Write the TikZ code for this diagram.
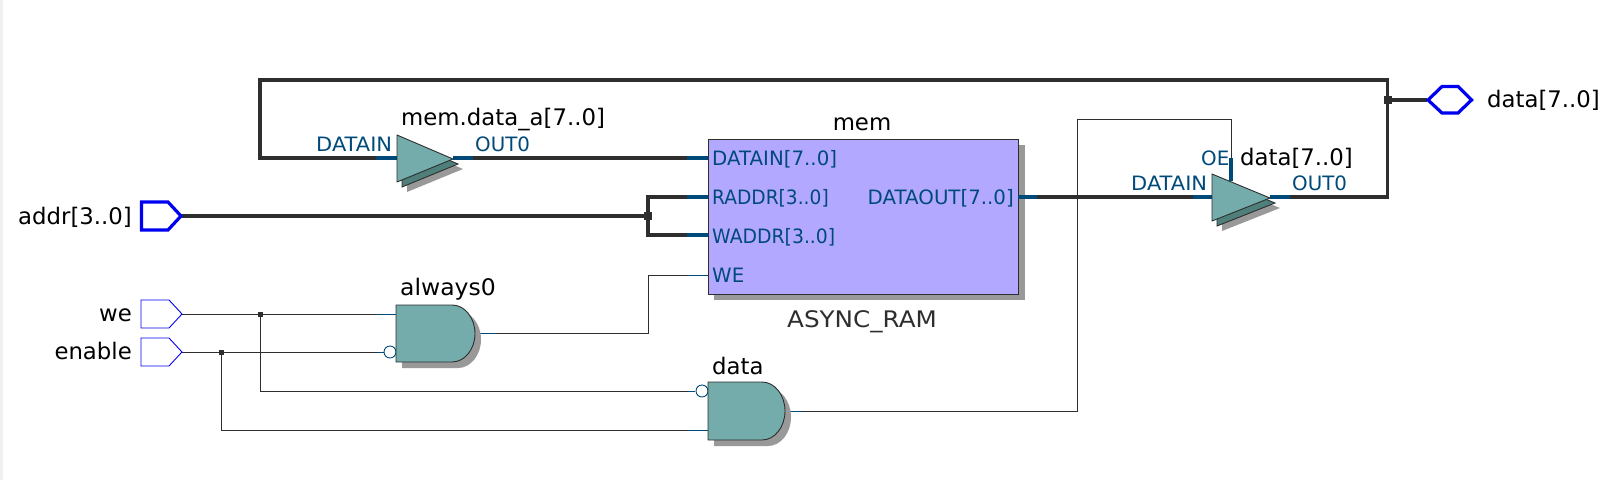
\documentclass[tikz,border=0pt]{standalone}
\usepackage{fontspec}
\setmainfont{DejaVu Sans}
\definecolor{bus}{HTML}{2E2E2E}
\definecolor{stub}{HTML}{004A7A}
\definecolor{gatefill}{HTML}{74ABAB}
\definecolor{gatedark}{HTML}{4F7F7B}
\definecolor{shadowgrey}{HTML}{999999}
\definecolor{ramfill}{HTML}{B2A8FF}
\definecolor{pinblue}{HTML}{0000F0}
\definecolor{leftstrip}{HTML}{F0F0F0}
\tikzset{
  x=1pt,y=-1pt,
  thickbus/.style={draw=bus,line width=3.6pt,line join=miter},
  thinwire/.style={draw=bus,line width=0.9pt},
  thickstub/.style={draw=stub,line width=3.6pt},
  thinstub/.style={draw=stub,line width=0.9pt},
  junction/.style={fill=bus,inner sep=0pt,minimum size=#1,draw=none,shape=rectangle},
  big/.style={font=\fontsize{22.8}{26}\selectfont,text=black,inner sep=0pt},
  small/.style={font=\fontsize{19.8}{22}\selectfont,text=stub,inner sep=0pt},
  gatebody/.style={fill=gatefill,draw=bus,line width=0.9pt,line join=round},
  pinline/.style={draw=pinblue,fill=white,line width=#1,line join=miter},
}
\newcommand{\andgate}[4]{% left, top, bottom, arcstart
  \fill[shadowgrey] (#1+6,#2+6) -- (#4+6,#2+6) arc[start angle=90,end angle=-90,x radius=23pt,y radius={(#3-#2)/2*1pt}] -- (#1+6,#3+6) -- cycle;
  \path[gatebody] (#1,#2) -- (#4,#2) arc[start angle=90,end angle=-90,x radius=23pt,y radius={(#3-#2)/2*1pt}] -- (#1,#3) -- cycle;
}
\newcommand{\bufgate}[3]{% left x, top y, tip x
  \fill[shadowgrey] (#1+10,#2+10) -- (#3+10,#2+34) -- (#1+10,#2+57) -- cycle;
  \path[fill=gatedark,draw=bus,line width=0.9pt] (#1+5,#2+5) -- (#3+5,#2+29) -- (#1+5,#2+52) -- cycle;
  \path[gatebody] (#1,#2) -- (#3,#2+24) -- (#1,#2+47) -- cycle;
}
\begin{document}
\begin{tikzpicture}
\useasboundingbox (0,0) rectangle (1613,480);
\fill[white] (0,0) rectangle (1613,480);
\fill[leftstrip] (0,0) rectangle (3,480);

% named connection points
\coordinate (topL) at (260,80);
\coordinate (topR) at (1387.5,80);
\coordinate (loopL) at (260,158);
\coordinate (bufAin) at (397,158);
\coordinate (bufAinS) at (376,158);
\coordinate (bufAout) at (453,158);
\coordinate (bufAoutS) at (473,158);
\coordinate (ramDin) at (708,158);
\coordinate (ramDinS) at (687,158);
\coordinate (ramRa) at (708,197);
\coordinate (ramRaS) at (687,197);
\coordinate (ramWa) at (708,235);
\coordinate (ramWaS) at (687,235);
\coordinate (ramWe) at (708,275);
\coordinate (ramWeS) at (688,275);
\coordinate (ramOut) at (1018,197);
\coordinate (ramOutS) at (1037,197);
\coordinate (jAddr) at (648,216);
\coordinate (jAddrT) at (648,197);
\coordinate (jAddrB) at (648,235);
\coordinate (addrTip) at (182,216);
\coordinate (bufBin) at (1212,197);
\coordinate (bufBinS) at (1193,197);
\coordinate (bufBout) at (1270,197);
\coordinate (bufBoutS) at (1290,197);
\coordinate (outR) at (1387.5,197);
\coordinate (jOut) at (1387.5,100);
\coordinate (hexL) at (1427,100);
\coordinate (weTip) at (182,314);
\coordinate (enTip) at (182,352);
\coordinate (jWe) at (260,314);
\coordinate (jEn) at (221,352);
\coordinate (g1a) at (396,314);
\coordinate (g1aS) at (377,314);
\coordinate (g1b) at (384,352);
\coordinate (g1bS) at (377,352);
\coordinate (g1o) at (475,333);
\coordinate (g1oS) at (495,333);
\coordinate (weTurn) at (648,275);
\coordinate (weTurnB) at (648,333);
\coordinate (g2a) at (695,391);
\coordinate (g2aS) at (688,391);
\coordinate (weLow) at (260,391);
\coordinate (g2b) at (708,430);
\coordinate (g2bS) at (688,430);
\coordinate (enLow) at (221,430);
\coordinate (g2o) at (785,411);
\coordinate (g2oS) at (803,411);
\coordinate (oeR) at (1077,411);
\coordinate (oeT) at (1077,119);
\coordinate (oeC) at (1231,119);
\coordinate (oeS) at (1231,158);
\coordinate (oeE) at (1231,181);

% RAM
\fill[shadowgrey] (714,145) rectangle (1025,300);
\node[draw=bus,fill=ramfill,line width=0.9pt,inner sep=0pt,minimum width=310pt,minimum height=155pt,anchor=north west] (ram) at (708,139) {};

% buses
\path[thickbus] (bufAinS) -- (loopL) -- (topL) -- (topR) -- (outR) -- (bufBoutS);
\path[thickbus] (bufAoutS) -- (ramDinS);
\path[thickbus] (addrTip) -- (jAddr);
\path[thickbus] (ramRaS) -- (jAddrT) -- (jAddrB) -- (ramWaS);
\path[thickbus] (ramOutS) -- (bufBinS);
\path[thickbus] (jOut) -- (hexL);
% thin wires
\path[thinwire] (weTip) -- (g1aS);
\path[thinwire] (enTip) -- (g1bS);
\path[thinwire] (jWe) -- (weLow) -- (g2aS);
\path[thinwire] (jEn) -- (enLow) -- (g2bS);
\path[thinwire] (g1oS) -- (weTurnB) -- (weTurn) -- (ramWeS);
\path[thinwire] (g2oS) -- (oeR) -- (oeT) -- (oeC) -- (oeS);
% stubs
\path[thickstub] (bufAinS) -- (bufAin);
\path[thickstub] (bufAout) -- (bufAoutS);
\path[thickstub] (ramDinS) -- (ramDin);
\path[thickstub] (ramRaS) -- (ramRa);
\path[thickstub] (ramWaS) -- (ramWa);
\path[thickstub] (ramOut) -- (ramOutS);
\path[thickstub] (bufBinS) -- (bufBin);
\path[thickstub] (bufBout) -- (bufBoutS);
\path[thickstub] (oeS) -- (oeE);
\path[thinstub] (ramWeS) -- (ramWe);
\path[thinstub] (g1aS) -- (g1a);
\path[thinstub] (g1bS) -- (g1b);
\path[thinstub] (g1o) -- (g1oS);
\path[thinstub] (g2aS) -- (g2a);
\path[thinstub] (g2bS) -- (g2b);
\path[thinstub] (g2o) -- (g2oS);
% junctions
\node[junction=8pt] (jA) at (jAddr) {};
\node[junction=8pt] (jO) at (jOut) {};
\node[junction=5pt] (jW) at (jWe) {};
\node[junction=5pt] (jE) at (jEn) {};

% gates
\path[draw=stub,fill=white,line width=0.9pt] (390,352) circle[radius=6pt];
\path[draw=stub,fill=white,line width=0.9pt] (702,391) circle[radius=6pt];
\bufgate{397}{135}{453}
\bufgate{1212}{174}{1270}
\andgate{396}{305}{362}{452}
\andgate{708}{382}{440}{762}

% pins
\path[pinline=3.2pt] (141.5,202) -- (168,202) -- (181,216) -- (168,230) -- (141.5,230) -- cycle;
\path[pinline=0.9pt] (141,300) -- (169,300) -- (182,314) -- (169,328) -- (141,328) -- cycle;
\path[pinline=0.9pt] (141,338) -- (169,338) -- (182,352) -- (169,366) -- (141,366) -- cycle;
\path[pinline=3.2pt] (1428,100) -- (1442,86.5) -- (1458,86.5) -- (1471.5,100) -- (1458,113) -- (1442,113) -- cycle;

% labels
\node[big,anchor=base west] (lMem) at (401,125) {mem.data\_a[7..0]};
\node[big,anchor=base] (lRam) at (862,130) {mem};
\node[big,anchor=base west] (lD1) at (1240,165) {data[7..0]};
\node[big,anchor=base west] (lD2) at (1487,107) {data[7..0]};
\node[big,anchor=base east] (lA) at (132,224) {addr[3..0]};
\node[big,anchor=base east] (lW) at (132,321) {we};
\node[big,anchor=base east] (lE) at (132,359) {enable};
\node[big,anchor=base west] (lG1) at (400,295) {\scalebox{1.03}[1]{always0}};
\node[big,anchor=base west] (lG2) at (712,374) {data};
\node[big,anchor=base,text=bus] (lAsync) at (862,327) {\scalebox{1.08}[1]{ASYNC\_RAM}};

\node[small,anchor=base west] (pA) at (316,151) {\scalebox{1.06}[1]{DATAIN}};
\node[small,anchor=base west] (pB) at (475,151) {OUT0};
\node[small,anchor=base west] (pC) at (712,165) {DATAIN[7..0]};
\node[small,anchor=base west] (pD) at (712,204) {\scalebox{0.94}[1]{RADDR[3..0]}};
\node[small,anchor=base west] (pE) at (712,243) {\scalebox{0.95}[1]{WADDR[3..0]}};
\node[small,anchor=base west] (pF) at (712,282) {WE};
\node[small,anchor=base east] (pG) at (1014,204) {DATAOUT[7..0]};
\node[small,anchor=base west] (pH) at (1131,190) {\scalebox{1.06}[1]{DATAIN}};
\node[small,anchor=base west] (pI) at (1201,165) {OE};
\node[small,anchor=base west] (pJ) at (1292,190) {OUT0};
\end{tikzpicture}
\end{document}
